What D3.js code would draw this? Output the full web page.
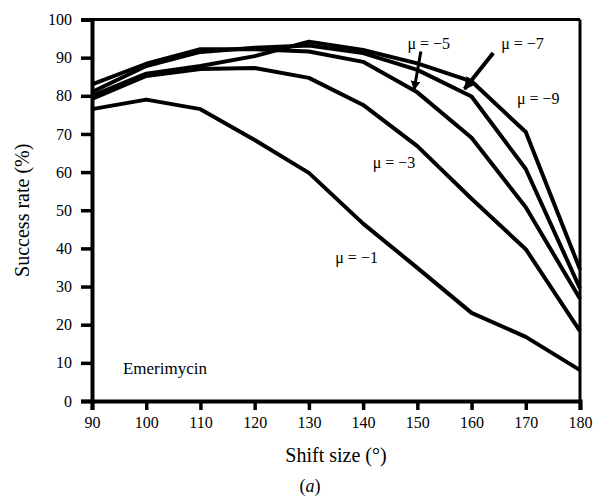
<!DOCTYPE html>
<html>
<head>
<meta charset="utf-8">
<script src="https://cdn.jsdelivr.net/npm/d3@7/dist/d3.min.js"></script>
<style>
  html, body { margin: 0; padding: 0; background: #fff; }
  svg { display: block; }
  svg text { font-family: "Liberation Serif", "Times New Roman", Times, "DejaVu Serif", serif; fill: #000; }
</style>
</head>
<body>
<svg id="chart" width="593" height="497"></svg>
<script>
// Shift sizes (degrees)
const shiftSizes = [90, 100, 110, 120, 130, 140, 150, 160, 170, 180];

// Success rate (%) for each value of mu
const mu1 = [76.5, 79.0, 76.5, 68.4, 59.8, 46.5, 34.9, 23.1, 16.8, 8.1];
const mu3 = [79.2, 85.2, 87.0, 87.3, 84.7, 77.6, 66.8, 53.0, 39.8, 18.3];
const mu5 = [83.0, 88.4, 92.2, 92.2, 91.6, 88.9, 80.9, 69.0, 50.8, 26.8];
const mu7 = [81.0, 87.8, 91.5, 92.6, 93.2, 91.2, 86.8, 79.8, 60.8, 29.5];
const mu9 = [80.0, 85.8, 87.8, 90.4, 94.2, 92.0, 88.5, 83.8, 70.5, 34.5];

const seriesNames = ["μ = −1", "μ = −3", "μ = −5", "μ = −7", "μ = −9"];
const seriesValues = [mu1, mu3, mu5, mu7, mu9];

const xTicks = [90, 100, 110, 120, 130, 140, 150, 160, 170, 180];
const yTicks = [0, 10, 20, 30, 40, 50, 60, 70, 80, 90, 100];

// Curve labels, placed in data units
const labelText = ["μ = −1", "μ = −3", "μ = −5", "μ = −7", "μ = −9", "Emerimycin"];
const labelX = [138.8, 145.7, 152.1, 169.4, 172.3, 95.7];
const labelY = [37.7, 62.6, 93.8, 93.8, 79.4, 8.6];

// Arrows from labels to their curves: [x, y] in data units
const arrowFrom = [[150.65, 91.6], [164.0, 91.2]];
const arrowTo = [[149.4, 81.6], [158.7, 81.8]];

const serif = "'Liberation Serif', 'Times New Roman', Times, 'DejaVu Serif', serif";

const svg = d3.select("#chart");
const margin = { left: 92, right: 13, top: 19.5, bottom: 96 };
const W = 593, H = 497;

const x = d3.scaleLinear().domain([90, 180]).range([margin.left, W - margin.right]);
const y = d3.scaleLinear().domain([0, 100]).range([H - margin.bottom, margin.top]);

// Frame: top and right edges
svg.append("line")
  .attr("x1", x(90)).attr("x2", x(180)).attr("y1", y(100)).attr("y2", y(100))
  .attr("stroke", "#000").attr("stroke-width", 3);
svg.append("line")
  .attr("x1", x(180)).attr("x2", x(180)).attr("y1", y(100)).attr("y2", y(0))
  .attr("stroke", "#000").attr("stroke-width", 3);

// Axes
const xAxis = d3.axisBottom(x).tickValues(xTicks).tickSize(9).tickPadding(7).tickFormat(d3.format("d"));
const yAxis = d3.axisLeft(y).tickValues(yTicks).tickSize(11).tickPadding(9).tickFormat(d3.format("d"));

const gx = svg.append("g").attr("transform", `translate(0,${y(0)})`).call(xAxis);
const gy = svg.append("g").attr("transform", `translate(${x(90)},0)`).call(yAxis);

[gx, gy].forEach(g => {
  g.attr("font-family", serif).attr("font-size", 16);
  g.select(".domain").attr("stroke", "#000").attr("stroke-width", 4);
  g.selectAll(".tick line").attr("stroke", "#000").attr("stroke-width", 3.5);
  g.selectAll(".tick text").attr("fill", "#000");
});

// Curves
const line = d3.line()
  .x((d, i) => x(shiftSizes[i]))
  .y(d => y(d));

svg.append("g").selectAll("path")
  .data(seriesValues)
  .join("path")
  .attr("d", line)
  .attr("fill", "none")
  .attr("stroke", "#000")
  .attr("stroke-width", 4)
  .attr("stroke-linejoin", "round");

// Curve labels
svg.append("g")
  .attr("font-family", serif)
  .selectAll("text")
  .data(labelText)
  .join("text")
  .attr("x", (d, i) => x(labelX[i]))
  .attr("y", (d, i) => y(labelY[i]))
  .attr("text-anchor", (d, i) => i === 5 ? "start" : "middle")
  .attr("dominant-baseline", "central")
  .attr("font-size", (d, i) => i === 5 ? 17 : 16)
  .text(d => d);

// Arrows
const defs = svg.append("defs");
defs.append("marker")
  .attr("id", "arrowhead")
  .attr("viewBox", "0 0 10 10")
  .attr("refX", 9).attr("refY", 5)
  .attr("markerWidth", 3.2).attr("markerHeight", 3.2)
  .attr("markerUnits", "strokeWidth")
  .attr("orient", "auto")
  .append("path")
  .attr("d", "M0,0 L10,5 L0,10 Z")
  .attr("fill", "#000");

svg.append("g").selectAll("line")
  .data(arrowFrom)
  .join("line")
  .attr("x1", d => x(d[0])).attr("y1", d => y(d[1]))
  .attr("x2", (d, i) => x(arrowTo[i][0])).attr("y2", (d, i) => y(arrowTo[i][1]))
  .attr("stroke", "#000")
  .attr("stroke-width", (d, i) => i === 0 ? 3 : 4)
  .attr("marker-end", "url(#arrowhead)");

// Axis titles
svg.append("text")
  .attr("x", (x(90) + x(180)) / 2)
  .attr("y", 462)
  .attr("text-anchor", "middle")
  .attr("font-family", serif)
  .attr("font-size", 20)
  .text("Shift size (°)");

svg.append("text")
  .attr("transform", `translate(22,${(y(0) + y(100)) / 2}) rotate(-90)`)
  .attr("text-anchor", "middle")
  .attr("dominant-baseline", "central")
  .attr("font-family", serif)
  .attr("font-size", 20)
  .text("Success rate (%)");

svg.append("text")
  .attr("x", 310)
  .attr("y", 492)
  .attr("text-anchor", "middle")
  .attr("font-family", serif)
  .attr("font-size", 18)
  .html("(<tspan font-style='italic'>a</tspan>)");
</script>
</body>
</html>
